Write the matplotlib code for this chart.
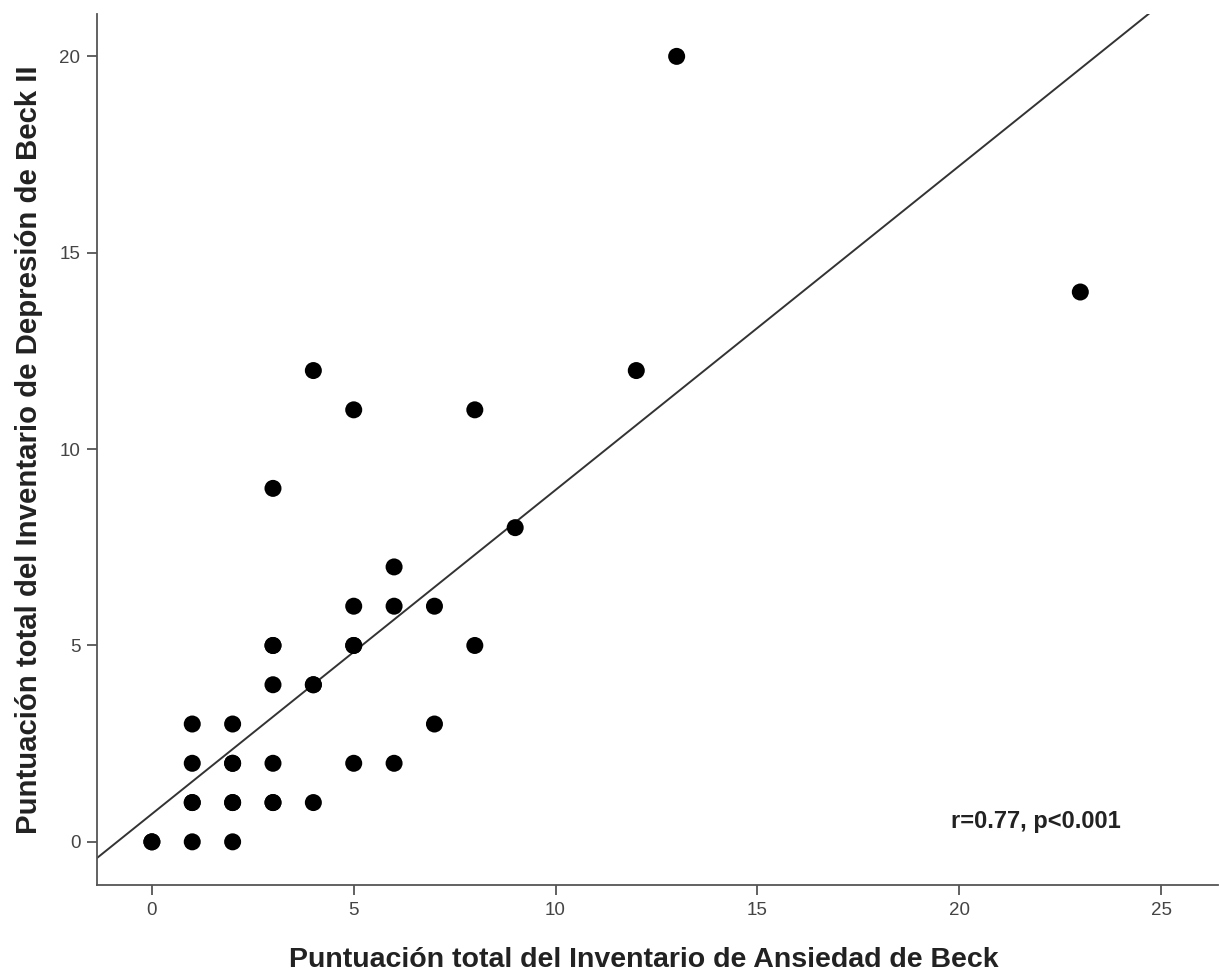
import numpy as np
import matplotlib

matplotlib.use("Agg")
import matplotlib.pyplot as plt

plt.rcParams["font.family"] = ["Liberation Sans", "DejaVu Sans"]

# BAI (x) vs BDI-II (y) scores; duplicates drawn twice where dots look heavier
bai = [0, 0, 1, 2, 1, 1, 2, 2, 3, 3, 4, 1, 2, 2, 3, 5, 6, 1, 2, 7,
       3, 4, 4, 3, 3, 5, 5, 8, 5, 6, 7, 6, 9, 3, 5, 8, 4, 12, 23, 13]
bdi = [0, 0, 0, 0, 1, 1, 1, 1, 1, 1, 1, 2, 2, 2, 2, 2, 2, 3, 3, 3,
       4, 4, 4, 5, 5, 5, 5, 5, 6, 6, 6, 7, 8, 9, 11, 11, 12, 12, 14, 20]

fit_slope = 0.825
fit_intercept = 0.71
fit_range = [-1.36, 24.75]

x_ticks = [0, 5, 10, 15, 20, 25]
y_ticks = [0, 5, 10, 15, 20]

GRAY = "#555555"

fig = plt.figure(figsize=(12.2, 9.76), dpi=100)
ax = fig.add_axes([0.0795, 0.0932, 0.9185, 0.8925])

fx = np.array(fit_range)
ax.plot(fx, fit_intercept + fit_slope * fx, color="#333333", lw=1.4, zorder=2)
ax.scatter(bai, bdi, s=150, color="black", edgecolors="none", zorder=3)

ax.set_xlim(-1.36, 26.4)
ax.set_ylim(-1.1, 21.08)
ax.set_xticks(x_ticks)
ax.set_yticks(y_ticks)

for side in ["top", "right"]:
    ax.spines[side].set_visible(False)
for side in ["left", "bottom"]:
    ax.spines[side].set_color(GRAY)
    ax.spines[side].set_linewidth(1.3)
ax.tick_params(length=7, width=1.3, color=GRAY, labelcolor="#444444",
               labelsize=13.5, pad=5)

ax.set_xlabel("Puntuación total del Inventario de Ansiedad de Beck",
              fontsize=20.5, fontweight="bold", color="#222222")
ax.set_ylabel("Puntuación total del Inventario de Depresión de Beck II",
              fontsize=21.2, fontweight="bold", color="#222222", labelpad=12)
ax.xaxis.set_label_coords(0.488, -0.071)

ax.text(19.8, 0.52, "r=0.77, p<0.001", fontsize=17, fontweight="bold",
        color="#222222", va="center", ha="left")

fig.savefig("out.png", facecolor="white")
